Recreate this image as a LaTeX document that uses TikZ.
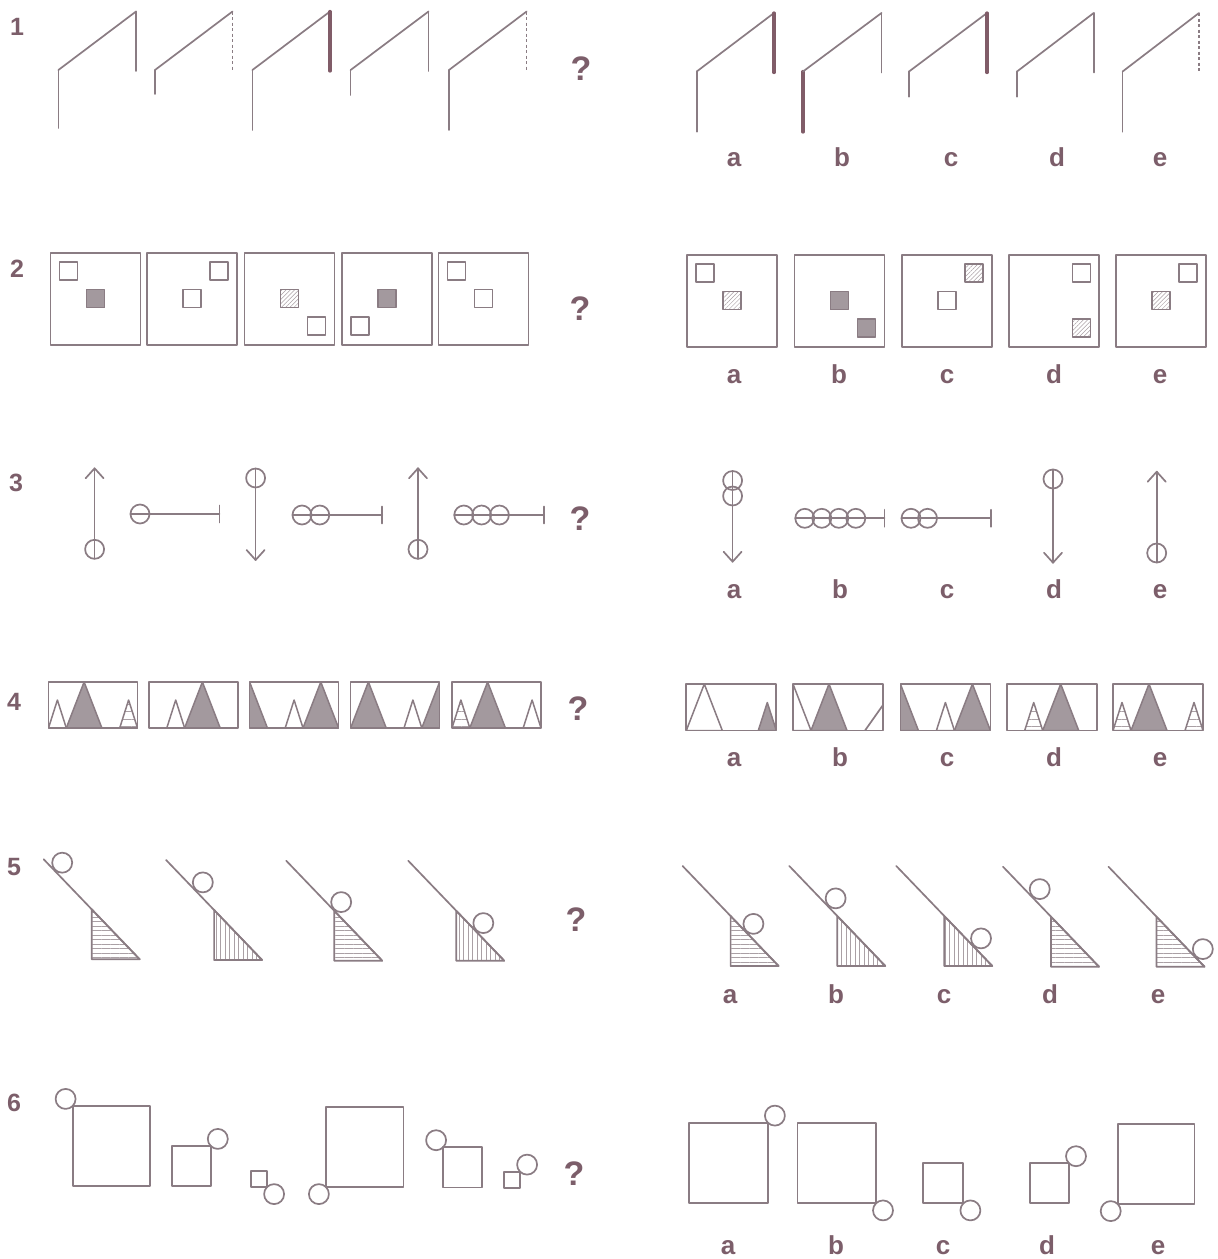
\documentclass[tikz,border=0pt]{standalone}
\usepackage{fontspec}
\setmainfont{Liberation Sans}
\usetikzlibrary{patterns.meta}
\definecolor{linec}{RGB}{138,124,131}
\definecolor{labc}{RGB}{124,94,106}
\definecolor{fillc}{RGB}{163,153,158}
\definecolor{thickc}{RGB}{128,92,104}
\definecolor{hatchc}{RGB}{170,160,165}
\tikzset{
  fig/.style={draw=linec, line width=1.7pt},
  thickln/.style={draw=thickc, line width=3.2pt},
  dashln/.style={draw=linec, line width=1.3pt, dash pattern=on 3pt off 2.5pt, line cap=butt},
  lab/.style={text=labc, font=\bfseries\fontsize{26}{26}\selectfont, inner sep=0pt, anchor=base},
  num/.style={text=labc, font=\bfseries\fontsize{25}{25}\selectfont, inner sep=0pt, anchor=base},
  qm/.style={text=labc, font=\bfseries\fontsize{34}{34}\selectfont, inner sep=0pt, anchor=base},
  wsq/.style={fig, line width=1.5pt, fill=white},
  gsq/.style={fig, line width=1.5pt, fill=fillc},
  hsq/.style={fig, line width=1.5pt, pattern={Lines[angle=45,distance=3pt,line width=0.5pt]}, pattern color=hatchc},
  gtri/.style={fig, line width=1.5pt, fill=fillc},
  wtri/.style={fig, line width=1.5pt, fill=white},
  htri/.style={fig, line width=1.5pt, pattern={Lines[angle=0,distance=7.5pt,line width=0.6pt]}, pattern color=hatchc},
  hhatch/.style={fig, pattern={Lines[angle=0,distance=4.5pt,line width=0.5pt]}, pattern color=hatchc},
  vhatch/.style={fig, pattern={Lines[angle=90,distance=4.5pt,line width=0.5pt]}, pattern color=hatchc},
}
% row 1 figure: left x, right x, left bottom y, corner y, left style, right style
\newcommand\zigfig[6]{%
  \draw[#5] (#1,#3) -- (#1,#4);
  \draw[fig] (#1,#4) -- (#2,#4-58.5);
  \draw[#6] (#2,#4-58.5) -- (#2,#4+1);
}
% row 2: big box and small square at grid cell (i,j)
\newcommand\bigbox[2]{\draw[fig] (#1,#2) rectangle ++(90,92);}
\newcommand\sqat[5]{\draw[#5] (#1+9+27*#3,#2+9+27.5*#4) rectangle ++(18,18);}
% row 4 triangles
\newcommand\bigtri[3]{\draw[#3] (#1+\ru*#2,\rB) -- (#1+\ru*#2+\ru,\rT) -- (#1+\ru*#2+2*\ru,\rB) -- cycle;}
\newcommand\smtri[3]{\draw[#3] (#1+\ru*#2,\rB) -- (#1+\ru*#2+\ru/2,\rB-28) -- (#1+\ru*#2+\ru,\rB) -- cycle;}
\newcommand\tribox[1]{\draw[fig] (#1,\rT) rectangle (#1+5*\ru,\rB);}
% row 5: slope figure
\newcommand\slopefig[4]{%
  \draw[#3] (#1+48,#2+50) -- (#1+48,#2+100) -- (#1+96,#2+100) -- cycle;
  \draw[fig] (#1,#2) -- (#1+96,#2+100);
  \draw[fig] (#1+96*#4+11*0.721,#2+100*#4-11*0.693) circle (10);
}
% row 3 ring
\newcommand\ring[2]{\draw[fig] (#1,#2) circle (9.5);}
\begin{document}
\begin{tikzpicture}[x=1pt,y=-1pt,line cap=round,line join=round]
\useasboundingbox[fill=white] (0,0) rectangle (1218,1259);

% ---------- row numbers ----------
\node[num] (n1) at (17,35) {1};
\node[num] (n2) at (17,277) {2};
\node[num] (n3) at (16,491.5) {3};
\node[num] (n4) at (14,710) {4};
\node[num] (n5) at (14,875) {5};
\node[num] (n6) at (14,1111.5) {6};

% ---------- question marks ----------
\node[qm] (q1) at (581,80) {?};
\node[qm] (q2) at (580,320) {?};
\node[qm] (q3) at (580,530) {?};
\node[qm] (q4) at (578,720) {?};
\node[qm] (q5) at (576,931.5) {?};
\node[qm] (q6) at (574,1185) {?};

% ---------- answer labels ----------
\foreach \lx/\ly/\lt/\nm in {734/166.5/a/r1a,842/166.5/b/r1b,951/166.5/c/r1c,1057/166.5/d/r1d,1160/166.5/e/r1e,
  734/383/a/r2a,839/383/b/r2b,947/383/c/r2c,1054/383/d/r2d,1160/383/e/r2e,
  734/598/a/r3a,840/598/b/r3b,947/598/c/r3c,1054/598/d/r3d,1160/598/e/r3e,
  734/766.5/a/r4a,840/766.5/b/r4b,947/766.5/c/r4c,1054/766.5/d/r4d,1160/766.5/e/r4e,
  730/1003/a/r5a,836/1003/b/r5b,944/1003/c/r5c,1050/1003/d/r5d,1158/1003/e/r5e,
  728/1254/a/r6a,836/1254/b/r6b,943/1254/c/r6c,1047/1254/d/r6d,1158/1254/e/r6e}
  \node[lab] (\nm) at (\lx,\ly) {\lt};

% ---------- row 1 ----------
\zigfig{58.4}{136}{128}{70}{fig}{fig}
\zigfig{155}{232.5}{94}{70}{fig}{dashln}
\zigfig{252.4}{330}{130}{70}{fig}{thickln}
\zigfig{350.6}{428.5}{95}{70}{fig}{fig}
\zigfig{449}{526.6}{130}{70}{fig}{dashln}
\zigfig{696.7}{774}{131.7}{71.5}{fig}{thickln}
\zigfig{803}{881.5}{132}{71.5}{thickln}{fig}
\zigfig{909}{987}{96.7}{71.5}{fig}{thickln}
\zigfig{1017}{1093.7}{96.7}{71.5}{fig}{fig}
\zigfig{1122.6}{1199}{131.7}{71.5}{fig}{dashln}

% ---------- row 2 ----------
\bigbox{50.5}{253} \sqat{50.5}{253}{0}{0}{wsq} \sqat{50.5}{253}{1}{1}{gsq}
\bigbox{147}{253} \sqat{147}{253}{2}{0}{wsq} \sqat{147}{253}{1}{1}{wsq}
\bigbox{244.4}{253} \sqat{244.4}{253}{1}{1}{hsq} \sqat{244.4}{253}{2}{2}{wsq}
\bigbox{341.8}{253} \sqat{341.8}{253}{1}{1}{gsq} \sqat{341.8}{253}{0}{2}{wsq}
\bigbox{438.4}{253} \sqat{438.4}{253}{0}{0}{wsq} \sqat{438.4}{253}{1}{1}{wsq}
\bigbox{687}{255} \sqat{687}{255}{0}{0}{wsq} \sqat{687}{255}{1}{1}{hsq}
\bigbox{794.4}{255} \sqat{794.4}{255}{1}{1}{gsq} \sqat{794.4}{255}{2}{2}{gsq}
\bigbox{902}{255} \sqat{902}{255}{2}{0}{hsq} \sqat{902}{255}{1}{1}{wsq}
\bigbox{1009.3}{255} \sqat{1009.3}{255}{2}{0}{wsq} \sqat{1009.3}{255}{2}{2}{hsq}
\bigbox{1116}{255} \sqat{1116}{255}{2}{0}{wsq} \sqat{1116}{255}{1}{1}{hsq}

% ---------- row 3 ----------
% 1: up arrow, ring at bottom
\draw[fig] (94.6,558.8) -- (94.6,468.3);
\draw[fig] (85.6,478.3) -- (94.6,468.3) -- (103.6,478.3);
\ring{94.6}{549.3}
% 2: one ring, bar
\draw[fig] (130.5,514) -- (219.4,514);
\draw[fig] (219.4,505.5) -- (219.4,522.5);
\ring{140}{514}
% 3: down arrow, ring at top
\draw[fig] (255.6,468.5) -- (255.6,560);
\draw[fig] (246.6,550) -- (255.6,560) -- (264.6,550);
\ring{255.6}{478}
% 4: two rings, bar
\draw[fig] (292.5,515) -- (382.3,515);
\draw[fig] (382.3,506.5) -- (382.3,523.5);
\ring{302}{515} \ring{319.8}{515}
% 5: up arrow, ring at bottom
\draw[fig] (418,558.8) -- (418,468.3);
\draw[fig] (409,478.3) -- (418,468.3) -- (427,478.3);
\ring{418}{549.3}
% 6: three rings, bar
\draw[fig] (454.3,515) -- (543.7,515);
\draw[fig] (543.7,506.5) -- (543.7,523.5);
\ring{463.8}{515} \ring{481.6}{515} \ring{499.4}{515}
% a: two rings on top, down arrow
\draw[fig] (732.6,471) -- (732.6,561.7);
\draw[fig] (723.6,551.7) -- (732.6,561.7) -- (741.6,551.7);
\ring{732.6}{480.5} \ring{732.6}{496}
% b: four rings, bar
\draw[fig] (795.3,518.3) -- (884.4,518.3);
\draw[fig] (884.4,509.8) -- (884.4,526.8);
\ring{804.8}{518.3} \ring{821.8}{518.3} \ring{838.8}{518.3} \ring{855.8}{518.3}
% c: two rings, bar
\draw[fig] (901.5,518.3) -- (991,518.3);
\draw[fig] (991,509.8) -- (991,526.8);
\ring{911}{518.3} \ring{927.5}{518.3}
% d: ring on top, down arrow
\draw[fig] (1053,469.5) -- (1053,562.7);
\draw[fig] (1044,552.7) -- (1053,562.7) -- (1062,552.7);
\ring{1053}{479}
% e: up arrow, ring at bottom
\draw[fig] (1156.7,562.5) -- (1156.7,471.7);
\draw[fig] (1147.7,481.7) -- (1156.7,471.7) -- (1165.7,481.7);
\ring{1156.7}{553}

% ---------- row 4 ----------
\def\ru{17.8}\def\rT{682}\def\rB{728}
\begin{scope}\clip (48.5,\rT) rectangle (48.5+5*\ru,\rB);
  \smtri{48.5}{0}{wtri} \bigtri{48.5}{1}{gtri} \smtri{48.5}{4}{htri}
\end{scope}\tribox{48.5}
\begin{scope}\clip (149,\rT) rectangle (149+5*\ru,\rB);
  \smtri{149}{1}{wtri} \bigtri{149}{2}{gtri}
\end{scope}\tribox{149}
\begin{scope}\clip (249.6,\rT) rectangle (249.6+5*\ru,\rB);
  \bigtri{249.6}{-1}{gtri} \smtri{249.6}{2}{wtri} \bigtri{249.6}{3}{gtri}
\end{scope}\tribox{249.6}
\begin{scope}\clip (350.6,\rT) rectangle (350.6+5*\ru,\rB);
  \bigtri{350.6}{0}{gtri} \smtri{350.6}{3}{wtri} \bigtri{350.6}{4}{gtri}
\end{scope}\tribox{350.6}
\begin{scope}\clip (452,\rT) rectangle (452+5*\ru,\rB);
  \smtri{452}{0}{htri} \bigtri{452}{1}{gtri} \smtri{452}{4}{wtri}
\end{scope}\tribox{452}
\def\ru{18}\def\rT{684}\def\rB{730.5}
\begin{scope}\clip (686.3,\rT) rectangle (686.3+5*\ru,\rB);
  \bigtri{686.3}{0}{wtri} \smtri{686.3}{4}{gtri}
\end{scope}\tribox{686.3}
\begin{scope}\clip (793,\rT) rectangle (793+5*\ru,\rB);
  \bigtri{793}{-1}{wtri} \bigtri{793}{1}{gtri}
  \draw[fig] (793+4*\ru,\rB) -- (793+5*\ru,705);
\end{scope}\tribox{793}
\begin{scope}\clip (900.4,\rT) rectangle (900.4+5*\ru,\rB);
  \bigtri{900.4}{-1}{gtri} \smtri{900.4}{2}{wtri} \bigtri{900.4}{3}{gtri}
\end{scope}\tribox{900.4}
\begin{scope}\clip (1006.7,\rT) rectangle (1006.7+5*\ru,\rB);
  \smtri{1006.7}{1}{htri} \bigtri{1006.7}{2}{gtri}
\end{scope}\tribox{1006.7}
\begin{scope}\clip (1113,\rT) rectangle (1113+5*\ru,\rB);
  \smtri{1113}{0}{htri} \bigtri{1113}{1}{gtri} \smtri{1113}{4}{htri}
\end{scope}\tribox{1113}

% ---------- row 5 ----------
\slopefig{43.7}{859.3}{hhatch}{0.11}
\slopefig{166.1}{860}{vhatch}{0.30}
\slopefig{286.2}{860.7}{hhatch}{0.49}
\slopefig{408.2}{860.7}{vhatch}{0.70}
\slopefig{682.6}{866}{hhatch}{0.655}
\slopefig{789.3}{866}{vhatch}{0.40}
\slopefig{896.3}{866}{vhatch}{0.80}
\slopefig{1003}{866.7}{hhatch}{0.30}
\slopefig{1108.5}{866.7}{hhatch}{0.90}

% ---------- row 6 ----------
\draw[fig] (72.7,1106) rectangle (150.2,1186);   \draw[fig] (65.6,1098.9) circle (10);
\draw[fig] (171.7,1146) rectangle (210.7,1186);  \draw[fig] (217.8,1138.9) circle (10);
\draw[fig] (251,1171) rectangle (267,1187);      \draw[fig] (274.1,1194.1) circle (10);
\draw[fig] (326,1107) rectangle (403.4,1187);    \draw[fig] (318.9,1194.1) circle (10);
\draw[fig] (443.2,1147.3) rectangle (482.1,1187.5); \draw[fig] (436.1,1140.2) circle (10);
\draw[fig] (504,1171.7) rectangle (520,1187.7);  \draw[fig] (527.1,1164.6) circle (10);
\draw[fig] (689.3,1122.7) rectangle (767.8,1203.3); \draw[fig] (774.9,1115.6) circle (10);
\draw[fig] (797.4,1123.3) rectangle (875.9,1203.3); \draw[fig] (883,1210.4) circle (10);
\draw[fig] (923.3,1163.3) rectangle (963.3,1203.3); \draw[fig] (970.4,1210.4) circle (10);
\draw[fig] (1030,1163.3) rectangle (1068.9,1203.3); \draw[fig] (1076,1156.2) circle (10);
\draw[fig] (1117.8,1124) rectangle (1194.4,1204);   \draw[fig] (1110.7,1211.1) circle (10);
\end{tikzpicture}
\end{document}
